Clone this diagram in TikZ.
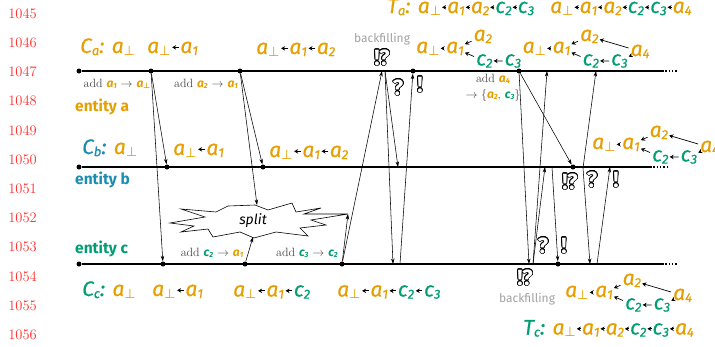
\documentclass[tikz,border=0pt]{standalone}
\usepackage{fontspec}
\usepackage{contour}
\usetikzlibrary{arrows.meta}
\newfontfamily\vfont{Fira Sans}[ItalicFeatures={FakeBold=0.6}]
\newfontfamily\plainfont{Fira Sans}
\newfontfamily\dejavu{DejaVu Sans}
\definecolor{corange}{HTML}{E69F00}
\definecolor{cgreen}{HTML}{009E73}
\definecolor{cblue}{HTML}{1B8DB3}
\definecolor{cnum}{HTML}{FF2D2D}
\definecolor{cgray}{HTML}{A3A3A3}
\definecolor{cadd}{HTML}{474747}
\contourlength{0.65pt}
\contournumber{24}

\makeatletter
\newcommand\subs[1]{\raisebox{-.1em}{\fontsize{\fpeval{.62*\f@size}}{1}\selectfont #1}}
\makeatother
\newcommand\pp{{\dejavu ⊥}}
\newcommand\ea[1]{{\color{corange}\vfont\itshape a\subs{#1}}}
\newcommand\ec[1]{{\color{cgreen}\vfont\itshape c\subs{#1}}}
\newcommand\eab[1]{{\bfseries\ea{#1}}}
\newcommand\ecb[1]{{\bfseries\ec{#1}}}
\newcommand\cn[3]{{\color{#1}\vfont\itshape #2\subs{#3}:}}
\newcommand\larr{\kern.06em\tikz[baseline={(0,-.27em)}]\draw[-{Stealth[length=4pt,width=4.5pt]},line width=.7pt] (.32em,0) -- (0,0);\kern.06em}
\newcommand\sarr{\kern.03em\tikz[baseline={(0,-.27em)}]\draw[-{Stealth[length=4pt,width=4.5pt]},line width=.7pt] (.2em,0) -- (0,0);\kern.03em}

\tikzset{pics/dag/.style={code={
  \node[el] (-p) at (-6,6) {\ea\pp};
  \node[el] (-a1) at (24,6) {\ea1};
  \node[el] (-a2) at (51.5,-6) {\ea2};
  \node[el] (-c2) at (54,18.5) {\ec2};
  \node[el] (-c3) at (82.5,18.5) {\ec3};
  \draw[dagarr] (-a1) -- (-p);
  \draw[dagarr] (-a2) -- (-a1);
  \draw[dagarr] (-c2) -- (-a1);
  \draw[dagarr] (-c3) -- (-c2);
  \ifnum#1>0
    \node[el] (-a4) at (102,9) {\ea4};
    \draw[dagarr] (-a4) -- (-a2);
    \draw[dagarr] (-a4) -- (-c3);
  \fi
}}}

\begin{document}
\begin{tikzpicture}[x=1pt, y=-1pt,
    lnum/.style={anchor=east, text=cnum, font=\fontsize{14.5}{16}\selectfont, inner sep=0},
    ent/.style={anchor=west, font=\vfont\bfseries\fontsize{15.5}{17}\selectfont, inner sep=0},
    chain/.style={anchor=base west, font=\vfont\fontsize{21}{24}\selectfont, inner sep=0},
    el/.style={anchor=base west, font=\vfont\fontsize{21}{24}\selectfont, inner sep=1pt},
    addl/.style={font=\fontsize{12}{16}\selectfont, text=cadd, inner sep=0, align=center},
    dot/.style={circle, fill, inner sep=0, minimum size=5pt},
    tl/.style={line width=1.3pt},
    tail/.style={line width=1.3pt, dash pattern=on 1.5pt off 1.8pt},
    msg/.style={-{Stealth[length=5.5pt,width=3.5pt]}, line width=.55pt},
    dagarr/.style={-{Stealth[length=4pt,width=4.5pt]}, line width=.7pt, shorten <=1pt},
    sym/.style={text=white, font=\vfont\bfseries\fontsize{22}{22}\selectfont, inner sep=0},
    bfl/.style={text=cgray, font=\plainfont\fontsize{12}{14}\selectfont, inner sep=0},
    burst/.style={draw, fill=white, line width=.6pt, line join=miter}]
  \useasboundingbox (0,0) rectangle (715,346);
  \fill[white] (0,0) rectangle (715,346);

  % line numbers
  \foreach \i in {0,...,11}
    \node[lnum] (ln\i) at (37, 13.5+29.2*\i) {\number\numexpr1045+\i\relax};

  % entities
  \node[ent, text=corange] (enta) at (75,107) {entity a};
  \node[ent, text=cblue] (entb) at (75,180) {entity b};
  \node[ent, text=cgreen] (entc) at (75,249) {entity c};

  % time lines
  \node[dot] (ea0) at (79,71) {};
  \node[dot] (eb0) at (79,167) {};
  \node[dot] (ec0) at (79,264) {};
  \coordinate (aend) at (662,71);  \coordinate (atail) at (678,71);
  \coordinate (bend) at (650,167); \coordinate (btail) at (667,167);
  \coordinate (cend) at (662,264); \coordinate (ctail) at (678,264);
  \draw[tl] (ea0) -- (aend); \draw[tail] (aend) -- (atail);
  \draw[tl] (eb0) -- (bend); \draw[tail] (bend) -- (btail);
  \draw[tl] (ec0) -- (cend); \draw[tail] (cend) -- (ctail);

  % events
  \node[dot] (ea1) at (151,71) {};
  \node[dot] (ea2) at (240,71) {};
  \node[dot] (ea3) at (413,71) {};
  \node[dot] (ea4) at (519,71) {};
  \node[dot] (eb1) at (167,167) {};
  \node[dot] (eb2) at (263,167) {};
  \node[dot] (eb3) at (573,167) {};
  \node[dot] (ec1) at (163,264) {};
  \node[dot] (ec2) at (245,264) {};
  \node[dot] (ec3) at (342,264) {};
  \node[dot] (ec4) at (558,264) {};
  \coordinate (abfin) at (382,71);  \coordinate (abfout) at (385,71);
  \coordinate (aq1) at (547,71);    \coordinate (aq2) at (596,71);
  \coordinate (bq0) at (398,167);   \coordinate (bq1) at (545,167);
  \coordinate (bans) at (552,167);  \coordinate (bbf) at (583,168);
  \coordinate (bex) at (610,167);
  \coordinate (cq0) at (393,264);   \coordinate (cans) at (400,264);
  \coordinate (cin) at (529,264);   \coordinate (cbf) at (533,264);
  \coordinate (cq2) at (590,264);   \coordinate (cans2) at (597,264);

  % split
  \draw[burst] (170,223) -- (205,217) -- (181,209) -- (216,212) -- (228,206) -- (255,205)
    -- (268,210) -- (292,203) -- (296,212) -- (321,208) -- (304,214) -- (348,214)
    -- (311,220) -- (326,225) -- (300,228) -- (308,236) -- (276,232) -- (254,238)
    -- (240,232) -- (213,237) -- (208,229) -- (181,232) -- (194,226) -- cycle;
  \node[font=\plainfont\itshape\fontsize{14}{14}\selectfont, inner sep=0] (split) at (253,221) {split};
  \coordinate (sptop) at (257,205);
  \coordinate (spbot) at (253,237);
  \coordinate (sptip) at (348,214);

  % messages
  \draw[msg] (ea1) -- (eb1);
  \draw[msg] (ea1) -- (ec1);
  \draw[msg] (ea2) -- (eb2);
  \draw[msg] (ea2) -- (sptop);
  \draw[msg] (ec2) -- (spbot);
  \draw[msg] (ec3) -- (sptip);
  \draw[msg] (ec3) -- (abfin);
  \draw[msg] (abfout) -- (bq0);
  \draw[msg] (abfout) -- (cq0);
  \draw[msg] (cans) -- (ea3);
  \draw[msg] (ea4) -- (cin);
  \draw[msg] (ea4) -- (eb3);
  \draw[msg] (cbf) -- (aq1);
  \draw[msg] (cbf) -- (bq1);
  \draw[msg] (bans) -- (ec4);
  \draw[msg] (bbf) -- (aq2);
  \draw[msg] (bbf) -- (cq2);
  \draw[msg] (cans2) -- (bex);

  % labels on the lines
  \node[addl] (la1) at (117,84) {add \eab1 $\to$ \eab\pp};
  \node[addl] (la2) at (206,84) {add \eab2 $\to$ \eab1};
  \node[addl] (lc2) at (212,253) {add \ecb2 $\to$ \eab1};
  \node[addl] (lc3) at (307,253) {add \ecb3 $\to$ \ecb2};
  \node[addl] (la4) at (493,88) {add \eab4\\$\to\{$\eab2, \ecb3$\}$};

  % backfilling marks
  \node[bfl] (bfla) at (382,39) {backfilling};
  \node[bfl] (bflc) at (527,299) {backfilling};
  \node[sym] (bfa) at (382,58) {\contour{black}{!\kern-.6pt?}};
  \node[sym] (qa) at (398,88) {\contour{black}{?}};
  \node[sym] (xa) at (420,85) {\contour{black}{!}};
  \node[sym] (bfb) at (570,182) {\contour{black}{!\kern-.6pt?}};
  \node[sym] (qb) at (592,180) {\contour{black}{?}};
  \node[sym] (xb) at (616,180) {\contour{black}{!}};
  \node[sym] (bfc) at (525,278) {\contour{black}{!\kern-.6pt?}};
  \node[sym] (qc) at (543,246) {\contour{black}{?}};
  \node[sym] (xc) at (564,246) {\contour{black}{!}};

  % states of entity a
  \node[chain] (ta0) at (387,13) {\cn{corange}{T}{a} \ea\pp\sarr\ea1\sarr\ea2\sarr\ec2\sarr\ec3};
  \node[chain] (ta1) at (550,13) {\ea\pp\sarr\ea1\sarr\ea2\sarr\ec2\sarr\ec3\sarr\ea4};
  \node[chain] (sa0) at (80,53) {\cn{corange}{C}{a} \ea\pp};
  \node[chain] (sa1) at (147,53) {\ea\pp\larr\ea1};
  \node[chain] (sa2) at (256,54) {\ea\pp\larr\ea1\larr\ea2};
  \pic (ha0) at (421,47) {dag=0};
  \pic (ha1) at (527.5,47) {dag=1};

  % states of entity b
  \node[chain] (sb0) at (82,154) {\cn{cblue}{C}{b} \ea\pp};
  \node[chain] (sb1) at (173,155) {\ea\pp\larr\ea1};
  \node[chain] (sb2) at (269,157) {\ea\pp\larr\ea1\larr\ea2};
  \pic (hb) at (597,143) {dag=1};

  % states of entity c
  \node[chain] (sc0) at (82,296) {\cn{cgreen}{C}{c} \ea\pp};
  \node[chain] (sc1) at (152,296) {\ea\pp\larr\ea1};
  \node[chain] (sc2) at (233,296.5) {\ea\pp\larr\ea1\larr\ec2};
  \node[chain] (sc3) at (337,296.5) {\ea\pp\larr\ea1\larr\ec2\larr\ec3};
  \pic (hc) at (570,291) {dag=1};
  \node[chain] (tc) at (523,334.5) {\cn{cgreen}{T}{c} \ea\pp\sarr\ea1\sarr\ea2\sarr\ec2\sarr\ec3\sarr\ea4};
\end{tikzpicture}
\end{document}
